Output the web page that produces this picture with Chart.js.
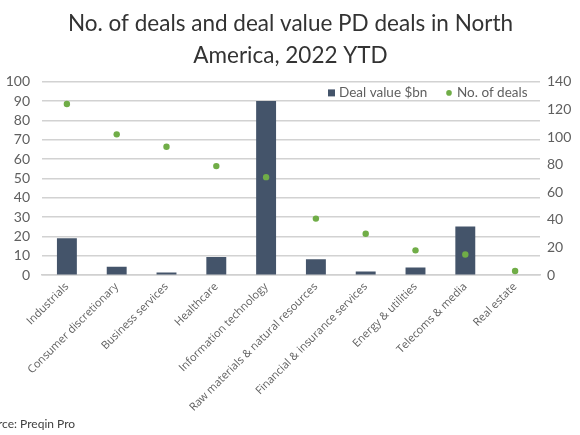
<!DOCTYPE html>
<html>
<head>
<meta charset="utf-8">
<script src="https://cdn.jsdelivr.net/npm/chart.js@4"></script>
<style>
  html, body { margin: 0; padding: 0; background: #ffffff; }
  #wrap { width: 580px; height: 435px; position: relative; }
</style>
</head>
<body>
<div id="wrap"><canvas id="c"></canvas></div>
<script>
const titleLines = ["No. of deals and deal value PD deals in North", "America, 2022 YTD"];
const categories = ["Industrials", "Consumer discretionary", "Business services", "Healthcare", "Information technology", "Raw materials & natural resources", "Financial & insurance services", "Energy & utilities", "Telecoms & media", "Real estate"];
const dealValue = [19.1, 4.4, 1.4, 9.4, 90.1, 8.2, 1.9, 4.0, 25.2, 0];
const dealCount = [124, 102, 93, 79, 71, 41, 30, 18, 15, 3];
const seriesNames = ["Deal value $bn", "No. of deals"];
const sourceText = "Source: Preqin Pro";

const FONT = "Lato, 'Open Sans', sans-serif";
const XFONT = "'Open Sans', sans-serif";
const TXT = "#5f5f5f";

const overlayPlugin = {
  id: 'overlay',
  afterDraw(chart) {
    const ctx = chart.ctx;
    const ca = chart.chartArea;
    ctx.save();
    ctx.font = "13.5px " + FONT;
    ctx.fillStyle = TXT;
    ctx.textBaseline = 'middle';
    const ly = ca.top + 11;
    let x = 328;
    ctx.fillStyle = "#44546A";
    ctx.fillRect(x, ly - 3.5, 7, 7);
    ctx.fillStyle = TXT;
    ctx.textAlign = 'left';
    ctx.fillText(chart.data.datasets[0].label, x + 11, ly);
    x = 449;
    ctx.fillStyle = "#70AD47";
    ctx.beginPath();
    ctx.arc(x, ly, 2.8, 0, Math.PI * 2);
    ctx.fill();
    ctx.fillStyle = TXT;
    ctx.fillText(chart.data.datasets[1].label, x + 8, ly);
    ctx.font = "12px " + FONT;
    ctx.fillStyle = "#404040";
    ctx.fillText(sourceText, -22, 424);
    ctx.restore();
  }
};

new Chart(document.getElementById('c'), {
  data: {
    labels: categories,
    datasets: [
      {
        type: 'bar',
        label: seriesNames[0],
        data: dealValue,
        backgroundColor: "#44546A",
        yAxisID: 'y',
        order: 2,
        barPercentage: 0.4,
        categoryPercentage: 1.0
      },
      {
        type: 'line',
        label: seriesNames[1],
        data: dealCount,
        showLine: false,
        pointRadius: 3.2,
        pointBackgroundColor: "#70AD47",
        pointBorderWidth: 0,
        borderColor: "#70AD47",
        yAxisID: 'y1',
        order: 1
      }
    ]
  },
  options: {
    responsive: true,
    maintainAspectRatio: false,
    animation: false,
    layout: { padding: { left: 7, right: 6, top: 0, bottom: 16 } },
    plugins: {
      legend: { display: false },
      tooltip: { enabled: false },
      title: {
        display: true,
        text: titleLines,
        color: "#333333",
        font: { family: FONT, size: 22.5, weight: 'normal', lineHeight: 1.42 },
        padding: { top: 8, bottom: 10 }
      }
    },
    scales: {
      x: {
        grid: { display: false, drawTicks: false },
        border: { display: true, color: "#d0d0d0", width: 1.5 },
        afterFit(scale) { scale.paddingLeft = 0; scale.paddingRight = 0; },
        ticks: {
          autoSkip: false,
          maxRotation: 45,
          minRotation: 45,
          color: TXT,
          padding: 5,
          font: { family: XFONT, size: 11 }
        }
      },
      y: {
        position: 'left',
        min: 0,
        max: 100,
        afterFit(scale) { scale.width = 35; },
        ticks: { stepSize: 10, autoSkip: false, color: TXT, padding: 12, font: { family: FONT, size: 14 } },
        grid: { display: true, color: "#d2d2d2", lineWidth: 1.5, drawTicks: false },
        border: { display: false }
      },
      y1: {
        position: 'right',
        min: 0,
        max: 140,
        afterFit(scale) { scale.width = 34; },
        ticks: { stepSize: 20, autoSkip: false, color: TXT, padding: 7, font: { family: FONT, size: 14 } },
        grid: { display: false, drawTicks: false },
        border: { display: false }
      }
    }
  },
  plugins: [overlayPlugin]
});
</script>
</body>
</html>
